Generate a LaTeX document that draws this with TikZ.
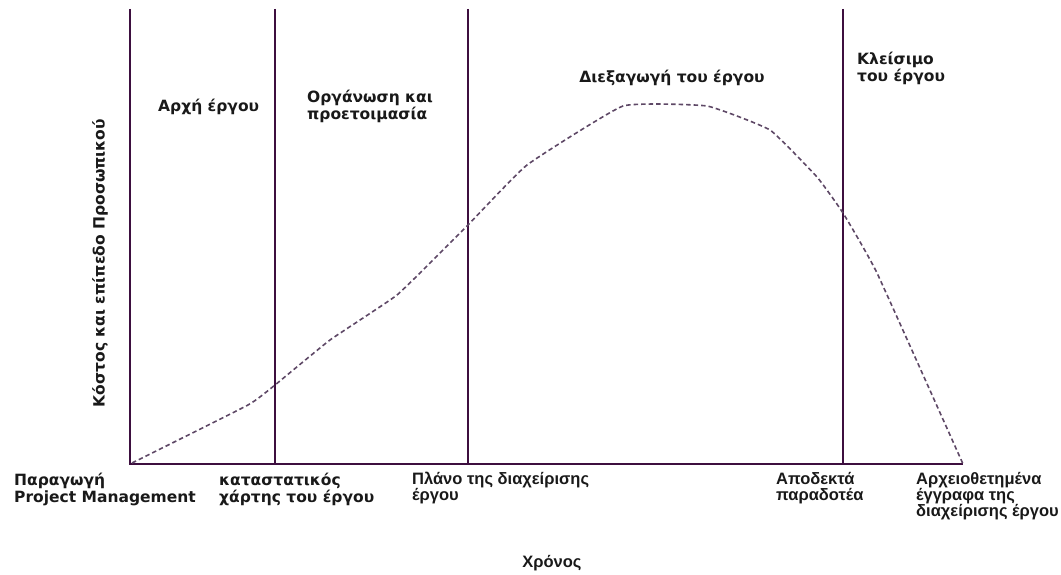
\documentclass[tikz,border=0pt]{standalone}
\usepackage{fontspec}
\setmainfont{DejaVu Sans}
\newfontfamily\arialfont{Liberation Sans}
\definecolor{axiscol}{HTML}{3D0F3F}
\definecolor{curvecol}{HTML}{5E4866}
\begin{document}
\begin{tikzpicture}[x=1pt,y=-1pt,
  axisline/.style={draw=axiscol, line width=1.3pt},
  costcurve/.style={draw=curvecol, line width=1.6pt, dash pattern=on 4.5pt off 3pt},
  vlabel/.style={font=\bfseries\fontsize{15.5}{17}\selectfont, align=left, inner sep=0pt, text=black!90},
  alabel/.style={font=\arialfont\bfseries\fontsize{16.5}{16}\selectfont, align=left, inner sep=0pt, text=black!90}]
\useasboundingbox (0,0) rectangle (1061,575);

% axes and phase boundaries
\coordinate (O) at (130,464);
\coordinate (ytop) at (130,9);
\coordinate (xend) at (963,464);
\coordinate (p1top) at (275,9);   \coordinate (p1bot) at (275,464);
\coordinate (p2top) at (468,9);   \coordinate (p2bot) at (468,464);
\coordinate (p3top) at (843,9);   \coordinate (p3bot) at (843,464);
\draw[axisline] (ytop) -- (O) -- (xend);
\draw[axisline] (p1top) -- (p1bot);
\draw[axisline] (p2top) -- (p2bot);
\draw[axisline] (p3top) -- (p3bot);

% cost and staffing level over time
\draw[costcurve] plot[smooth, tension=0.22] coordinates {(132,463) (248,405) (275,385) (330,340) (397,295) (453,240) (468,225) (527,165) (623,106) (707,106) (770,130) (817,177) (843,213) (877,273) (963,464)};

% phase titles
\node[vlabel, anchor=west] (start) at (158,107) {Αρχή έργου};
\node[vlabel, anchor=north west] (prep) at (307,90) {Οργάνωση και\\προετοιμασία};
\node[vlabel] (exec) at (672,78) {Διεξαγωγή του έργου};
\node[vlabel, anchor=north west] (close) at (857,52) {Κλείσιμο\\του έργου};

% milestones along the time axis
\node[vlabel, anchor=north west] (m0) at (14,473) {Παραγωγή\\Project Management};
\node[vlabel, anchor=north west] (m1) at (219,473) {καταστατικός\\χάρτης του έργου};
\node[alabel, anchor=north west] (m2) at (412,472) {Πλάνο της διαχείρισης\\έργου};
\node[alabel, anchor=north west] (m3) at (776,472) {Αποδεκτά\\παραδοτέα};
\node[alabel, anchor=north west] (m4) at (916,472) {Αρχειοθετημένα\\έγγραφα της\\διαχείρισης έργου};

% axis titles
\node[alabel] (xlab) at (552,563) {Χρόνος};
\node[vlabel, rotate=90] (ylab) at (100,263) {Κόστος και επίπεδο Προσωπικού};
\end{tikzpicture}
\end{document}
